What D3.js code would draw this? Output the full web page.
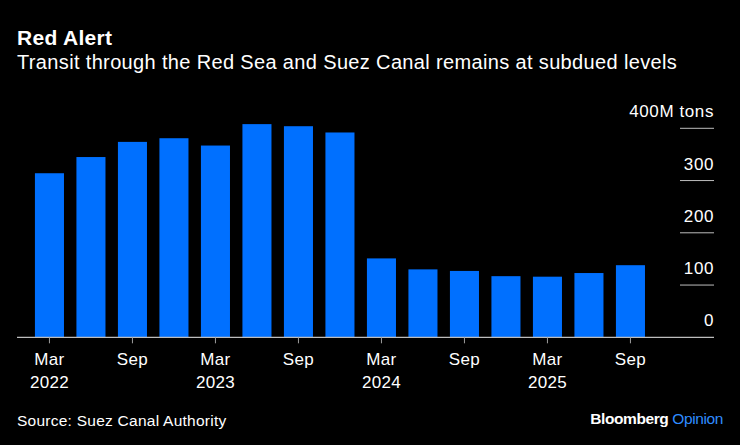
<!DOCTYPE html>
<html>
<head>
<meta charset="utf-8">
<script src="https://cdn.jsdelivr.net/npm/d3@7"></script>
<style>
  body { margin: 0; background: #000; }
  svg { display: block; font-family: "Liberation Sans", Arial, sans-serif; }
</style>
</head>
<body>
<svg id="chart"></svg>
<script>
// Quarterly transit, million tons
const quarters = ['2022-03', '2022-06', '2022-09', '2022-12',
                  '2023-03', '2023-06', '2023-09', '2023-12',
                  '2024-03', '2024-06', '2024-09', '2024-12',
                  '2025-03', '2025-06', '2025-09'];
const tonnage = [314, 345, 374, 381, 367, 408, 404, 392,
                 151, 130, 127, 117, 116, 123, 138];
const yTicks = [0, 100, 200, 300, 400];
const xTickLabels = ['Mar|2022', 'Sep', 'Mar|2023', 'Sep', 'Mar|2024', 'Sep', 'Mar|2025', 'Sep'];

const width = 740, height = 445;
const svg = d3.select('#chart').attr('width', width).attr('height', height);

svg.append('rect').attr('width', width).attr('height', height).attr('fill', '#000');

// titles
svg.append('text').attr('x', 17).attr('y', 45)
  .attr('fill', '#fff').attr('font-size', 21).attr('font-weight', 700)
  .attr('letter-spacing', 0.3)
  .text('Red Alert');
svg.append('text').attr('x', 17).attr('y', 69)
  .attr('fill', '#fff').attr('font-size', 20)
  .attr('letter-spacing', 0.35)
  .text('Transit through the Red Sea and Suez Canal remains at subdued levels');

// scales
const x = d3.scaleBand()
  .domain(quarters)
  .range([28.7, 651.2])
  .paddingInner(0.3)
  .paddingOuter(0.15);

const y = d3.scaleLinear().domain([0, 400]).range([337.3, 128.3]);

// bars
svg.append('g').selectAll('rect')
  .data(quarters)
  .enter().append('rect')
  .attr('x', d => x(d))
  .attr('width', x.bandwidth())
  .attr('y', (d, i) => y(tonnage[i]))
  .attr('height', (d, i) => y(0) - y(tonnage[i]))
  .attr('fill', '#0070ff');

// y axis on the right: short gridlines under each label
const yg = svg.append('g');
yg.selectAll('line').data(yTicks.filter(d => d > 0)).enter().append('line')
  .attr('x1', 680).attr('x2', 714)
  .attr('y1', d => y(d)).attr('y2', d => y(d))
  .attr('stroke', '#bdbdbd').attr('stroke-width', 1);
yg.selectAll('text').data(yTicks).enter().append('text')
  .attr('x', 714).attr('y', d => y(d) - 11)
  .attr('text-anchor', 'end')
  .attr('fill', '#fff').attr('font-size', 17)
  .attr('letter-spacing', 0.6)
  .text(d => d === 400 ? '400M tons' : d);

// baseline
svg.append('line')
  .attr('x1', 17).attr('x2', 714)
  .attr('y1', y(0)).attr('y2', y(0))
  .attr('stroke', '#bdbdbd').attr('stroke-width', 1.2);

// x ticks at Mar / Sep
const tickQ = quarters.filter((d, i) => i % 2 === 0);
const xg = svg.append('g');
xg.selectAll('line').data(tickQ).enter().append('line')
  .attr('x1', d => x(d) + x.bandwidth() / 2)
  .attr('x2', d => x(d) + x.bandwidth() / 2)
  .attr('y1', y(0)).attr('y2', y(0) + 6)
  .attr('stroke', '#9e9e9e').attr('stroke-width', 1);

const lbl = xg.selectAll('text').data(tickQ).enter().append('text')
  .attr('x', d => x(d) + x.bandwidth() / 2)
  .attr('text-anchor', 'middle')
  .attr('fill', '#fff').attr('font-size', 17)
  .attr('letter-spacing', 0.3);
lbl.each(function (d, i) {
  const parts = xTickLabels[i].split('|');
  const t = d3.select(this);
  parts.forEach((p, j) => {
    t.append('tspan').attr('x', x(d) + x.bandwidth() / 2)
      .attr('y', 365 + j * 23).text(p);
  });
});

// footer
svg.append('text').attr('x', 17).attr('y', 426)
  .attr('fill', '#fff').attr('font-size', 15.5)
  .attr('letter-spacing', 0.25)
  .text('Source: Suez Canal Authority');

const brand = svg.append('text').attr('x', 723).attr('y', 424)
  .attr('text-anchor', 'end').attr('font-size', 15.5).attr('font-weight', 700)
  .attr('letter-spacing', -0.4);
brand.append('tspan').attr('fill', '#fff').text('Bloomberg ');
brand.append('tspan').attr('fill', '#2f8cff').attr('font-weight', 400).text('Opinion');
</script>
</body>
</html>
